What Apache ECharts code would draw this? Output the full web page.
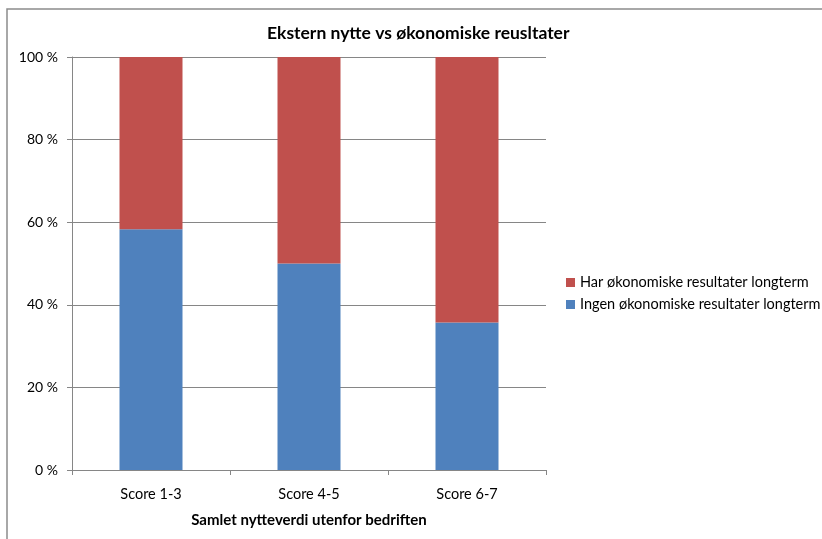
<!DOCTYPE html>
<html>
<head>
<meta charset="utf-8">
<script src="https://cdn.jsdelivr.net/npm/echarts@6/dist/echarts.min.js"></script>
<style>
  html, body { margin: 0; padding: 0; background: #fff; }
  #chart { width: 822px; height: 539px; }
</style>
</head>
<body>
<div id="chart"></div>
<script>
  // data
  var categories = ['Score 1-3', 'Score 4-5', 'Score 6-7'];
  var ingenValues = [58.3, 50.0, 35.7];   // Ingen økonomiske resultater longterm
  var harValues = [41.7, 50.0, 64.3];     // Har økonomiske resultater longterm
  var yTicks = [0, 20, 40, 60, 80, 100];

  var font = 'Lato, "Liberation Sans", sans-serif';

  var chart = echarts.init(document.getElementById('chart'));
  chart.setOption({
    animation: false,
    textStyle: { fontFamily: font },
    title: {
      text: 'Ekstern nytte vs økonomiske reusltater',
      left: 262,
      top: 19,
      textStyle: { fontSize: 17.5, fontWeight: 'bold', color: '#000', fontFamily: font }
    },
    graphic: [{
      type: 'rect',
      z: -1,
      shape: { x: 7, y: 9, width: 900, height: 700 },
      style: { fill: 'none', stroke: '#8c8c8c', lineWidth: 1.5 }
    }],
    legend: {
      orient: 'vertical',
      left: 561,
      top: 270,
      itemWidth: 9,
      itemHeight: 9,
      itemGap: 7,
      icon: 'rect',
      data: ['Har økonomiske resultater longterm', 'Ingen økonomiske resultater longterm'],
      textStyle: { fontSize: 14.5, color: '#000' }
    },
    grid: { left: 72, right: 276, top: 57, bottom: 69 },
    xAxis: {
      type: 'category',
      data: categories,
      name: 'Samlet nytteverdi utenfor bedriften',
      nameLocation: 'middle',
      nameGap: 43,
      nameTextStyle: { fontSize: 15, fontWeight: 'bold', color: '#000' },
      axisLine: { lineStyle: { color: '#868686', width: 1 } },
      axisTick: { show: true, length: 5, alignWithLabel: false, lineStyle: { color: '#868686' } },
      axisLabel: { color: '#000', fontSize: 14.5, margin: 17 }
    },
    yAxis: {
      type: 'value',
      min: yTicks[0],
      max: yTicks[yTicks.length - 1],
      interval: 20,
      axisLine: { show: true, lineStyle: { color: '#868686', width: 1 } },
      axisTick: { show: true, length: 5, lineStyle: { color: '#868686' } },
      axisLabel: { color: '#000', fontSize: 14, margin: 14, formatter: '{value} %' },
      splitLine: { lineStyle: { color: '#868686', width: 1 } }
    },
    series: [
      {
        name: 'Ingen økonomiske resultater longterm',
        type: 'bar',
        stack: 'total',
        barWidth: 63,
        itemStyle: { color: '#4F81BD' },
        data: ingenValues
      },
      {
        name: 'Har økonomiske resultater longterm',
        type: 'bar',
        stack: 'total',
        barWidth: 63,
        itemStyle: { color: '#C0504D' },
        data: harValues
      }
    ]
  });
</script>
</body>
</html>
